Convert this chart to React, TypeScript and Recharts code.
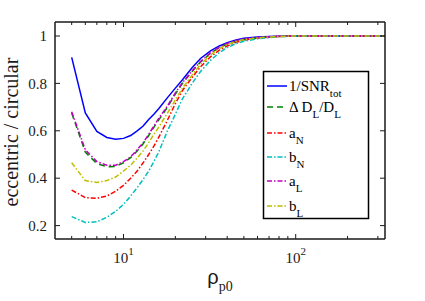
import { LineChart, Line, XAxis, YAxis } from 'recharts';

// rho_p0 sample points
const rho = [5, 6, 7, 8, 9, 10, 11, 12, 13, 14, 15, 16, 18, 20, 22, 25, 28, 32, 36, 40, 45, 50, 60, 70, 80, 100, 130, 170, 220, 280, 330];

const snrTot = [0.91, 0.675, 0.597, 0.572, 0.564, 0.568, 0.58, 0.6, 0.62, 0.648, 0.67, 0.693, 0.74, 0.78, 0.815, 0.866, 0.905, 0.937, 0.958, 0.972, 0.983, 0.99, 0.996, 0.998, 0.999, 1, 1, 1, 1, 1, 1];
const dDL = [0.675, 0.51, 0.462, 0.448, 0.45, 0.465, 0.487, 0.515, 0.545, 0.58, 0.615, 0.645, 0.7, 0.755, 0.8, 0.85, 0.89, 0.927, 0.951, 0.966, 0.978, 0.985, 0.992, 0.996, 0.998, 1, 1, 1, 1, 1, 1];
const aN = [0.35, 0.318, 0.315, 0.325, 0.345, 0.37, 0.4, 0.43, 0.465, 0.5, 0.535, 0.572, 0.645, 0.715, 0.77, 0.825, 0.87, 0.912, 0.94, 0.958, 0.973, 0.982, 0.991, 0.995, 0.998, 1, 1, 1, 1, 1, 1];
const bN = [0.238, 0.213, 0.216, 0.235, 0.26, 0.29, 0.325, 0.36, 0.395, 0.43, 0.47, 0.51, 0.6, 0.67, 0.735, 0.8, 0.85, 0.897, 0.93, 0.951, 0.968, 0.978, 0.988, 0.993, 0.997, 1, 1, 1, 1, 1, 1];
const aL = [0.68, 0.52, 0.47, 0.455, 0.455, 0.47, 0.49, 0.52, 0.55, 0.585, 0.62, 0.652, 0.705, 0.76, 0.803, 0.852, 0.892, 0.929, 0.952, 0.968, 0.98, 0.988, 0.994, 0.997, 0.999, 1, 1, 1, 1, 1, 1];
const bL = [0.465, 0.39, 0.382, 0.39, 0.405, 0.43, 0.455, 0.485, 0.515, 0.55, 0.585, 0.615, 0.675, 0.73, 0.78, 0.835, 0.88, 0.92, 0.947, 0.964, 0.977, 0.985, 0.992, 0.996, 0.998, 1, 1, 1, 1, 1, 1];

const xTicks = [5, 6, 7, 8, 9, 10, 20, 30, 40, 50, 60, 70, 80, 90, 100, 200, 300];
const xMajor: Record<number, string> = { 10: '1', 100: '2' };
const yTicks = [0.2, 0.4, 0.6, 0.8, 1];
const yLabels = ['0.2', '0.4', '0.6', '0.8', '1'];

const data = rho.map((r, i) => ({
  rho: r,
  snr: snrTot[i],
  ddl: dDL[i],
  aN: aN[i],
  bN: bN[i],
  aL: aL[i],
  bL: bL[i],
}));

const AX = '#1a1a1a';
const SERIF = '"Liberation Serif", "Times New Roman", serif';
const DASHDOT = '5 2 1.5 2';

const series = [
  { key: 'snr', color: '#0000ff', dash: undefined, label: ['1/SNR', 'tot'] },
  { key: 'ddl', color: '#008000', dash: '6 4', label: null },
  { key: 'aN', color: '#ff0000', dash: DASHDOT, label: ['a', 'N'] },
  { key: 'bN', color: '#00bfbf', dash: DASHDOT, label: ['b', 'N'] },
  { key: 'aL', color: '#bf00bf', dash: DASHDOT, label: ['a', 'L'] },
  { key: 'bL', color: '#bfbf00', dash: DASHDOT, label: ['b', 'L'] },
];

const legendRows = [16, 37, 63, 87, 111, 136];

function BottomTick(props: any) {
  const { x, y, payload } = props;
  const major = xMajor[payload.value];
  return (
    <g>
      <line x1={x} x2={x} y1={y} y2={y - (major ? 5 : 3)} stroke={AX} strokeWidth={1} />
      {major && (
        <text x={x} y={y + 24} textAnchor="middle" fontFamily={SERIF} fontSize={15} fill={AX}>
          10
          <tspan fontSize={11} dy={-8}>{major}</tspan>
        </text>
      )}
    </g>
  );
}

function TopTick(props: any) {
  const { x, y, payload } = props;
  const major = xMajor[payload.value];
  return <line x1={x} x2={x} y1={y} y2={y + (major ? 5 : 3)} stroke={AX} strokeWidth={1} />;
}

function LeftTick(props: any) {
  const { x, y, index } = props;
  return (
    <g>
      <line x1={x} x2={x + 5} y1={y} y2={y} stroke={AX} strokeWidth={1} />
      <text x={x - 8} y={y} dy="0.35em" textAnchor="end" fontFamily={SERIF} fontSize={15} fill={AX}>
        {yLabels[index]}
      </text>
    </g>
  );
}

function RightTick(props: any) {
  const { x, y } = props;
  return <line x1={x} x2={x - 5} y1={y} y2={y} stroke={AX} strokeWidth={1} />;
}

function LegendBox() {
  return (
    <svg
      width={108}
      height={150}
      style={{ position: 'absolute', left: 262, top: 70 }}
    >
      <rect x={1.5} y={1.5} width={105} height={147} fill="#fff" stroke="#000" strokeWidth={1.5} />
      {series.map((s, i) => (
        <g key={s.key}>
          <line x1={5} x2={25} y1={legendRows[i]} y2={legendRows[i]} stroke={s.color} strokeWidth={1.5} strokeDasharray={s.dash} />
          <text x={27} y={legendRows[i] + 5} fontFamily={SERIF} fontSize={15} fill="#000">
            {s.label ? (
              <>
                {s.label[0]}
                <tspan fontSize={11} dy={6}>{s.label[1]}</tspan>
              </>
            ) : (
              <>
                {'Δ D'}
                <tspan fontSize={11} dy={6}>L</tspan>
                <tspan dy={-6}>/D</tspan>
                <tspan fontSize={11} dy={6}>L</tspan>
              </>
            )}
          </text>
        </g>
      ))}
    </svg>
  );
}

export default function App() {
  return (
    <div style={{ position: 'absolute', left: 0, top: 0, width: 425, height: 301, background: '#fff' }}>
      <LineChart width={425} height={301} data={data} margin={{ top: 21, right: 39, bottom: 61, left: 54 }}>
        <XAxis
          dataKey="rho"
          type="number"
          scale="log"
          domain={[4, 330]}
          allowDataOverflow
          ticks={xTicks}
          interval={0}
          height={1}
          tickLine={false}
          tickSize={0}
          tickMargin={0}
          axisLine={{ stroke: AX, strokeWidth: 1.5 }}
          tick={<BottomTick />}
        />
        <XAxis
          xAxisId="top"
          orientation="top"
          dataKey="rho"
          type="number"
          scale="log"
          domain={[4, 330]}
          allowDataOverflow
          ticks={xTicks}
          interval={0}
          height={1}
          tickLine={false}
          tickSize={0}
          tickMargin={0}
          axisLine={{ stroke: AX, strokeWidth: 1.5 }}
          tick={<TopTick />}
        />
        <YAxis
          type="number"
          domain={[0.1435, 1.059]}
          allowDataOverflow
          ticks={yTicks}
          interval={0}
          width={1}
          tickLine={false}
          tickSize={0}
          tickMargin={0}
          axisLine={{ stroke: AX, strokeWidth: 1.5 }}
          tick={<LeftTick />}
        />
        <YAxis
          yAxisId="right"
          orientation="right"
          type="number"
          domain={[0.1435, 1.059]}
          allowDataOverflow
          ticks={yTicks}
          interval={0}
          width={1}
          tickLine={false}
          tickSize={0}
          tickMargin={0}
          axisLine={{ stroke: AX, strokeWidth: 1.5 }}
          tick={<RightTick />}
        />
        {series.map((s) => (
          <Line
            key={s.key}
            dataKey={s.key}
            type="linear"
            stroke={s.color}
            strokeWidth={1.5}
            strokeDasharray={s.dash}
            dot={false}
            activeDot={false}
            isAnimationActive={false}
          />
        ))}
      </LineChart>
      <svg width={425} height={301} style={{ position: 'absolute', left: 0, top: 0, pointerEvents: 'none' }}>
        <text
          x={18}
          y={132}
          transform="rotate(-90 18 132)"
          textAnchor="middle"
          fontFamily={SERIF}
          fontSize={20}
          fill={AX}
        >
          eccentric / circular
        </text>
        <text x={220} y={284} textAnchor="middle" fontFamily={SERIF} fontSize={20} fill={AX}>
          <tspan fontFamily='"Liberation Sans", Arial, sans-serif'>ρ</tspan>
          <tspan fontSize={14} dy={7}>p0</tspan>
        </text>
      </svg>
      <LegendBox />
    </div>
  );
}
